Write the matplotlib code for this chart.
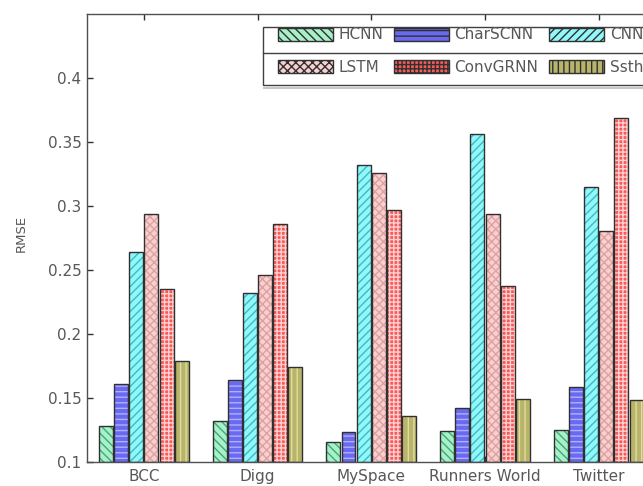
import numpy as np
import matplotlib.pyplot as plt
from matplotlib.patches import Patch, Rectangle
from matplotlib.lines import Line2D

plt.rcParams['font.family'] = ['DejaVu Sans']
plt.rcParams['hatch.linewidth'] = 1.0

datasets = ['BCC', 'Digg', 'MySpace', 'Runners World', 'Twitter']
methods = ['HCNN', 'CharSCNN', 'CNN', 'LSTM', 'ConvGRNN', 'Ssth']

# RMSE 数值
hcnn = [0.128, 0.132, 0.115, 0.124, 0.125]
charscnn = [0.161, 0.164, 0.123, 0.142, 0.158]
cnn = [0.264, 0.232, 0.332, 0.356, 0.315]
lstm = [0.294, 0.246, 0.326, 0.294, 0.280]
convgrnn = [0.235, 0.286, 0.297, 0.237, 0.369]
ssth = [0.179, 0.174, 0.136, 0.149, 0.148]
values = [hcnn, charscnn, cnn, lstm, convgrnn, ssth]

face_colors = ['#a8f0c8', '#6a6af0', '#90f8f8', '#f8d0d0', '#f85a5a', '#b8b46a']
hatch_colors = ['#40a878', '#b0b0ff', '#40b8c8', '#e0a0a0', '#ffd0d0', '#e0dca0']
hatches = ['\\\\\\\\', '---', '////', 'xxxx', '++++', '|||']

text_color = '#585858'
fs = 11

fig = plt.figure(figsize=(6.43, 4.86), dpi=100)
ax = fig.add_axes([87 / 643, 1 - 461.6 / 486, 568.5 / 643, (461.6 - 14) / 486])

x = np.arange(1, len(datasets) + 1)
n = len(methods)
w = 0.8 / n
for i in range(n):
    pos = x + (i - (n - 1) / 2) * w
    ax.bar(pos, np.array(values[i]) - 0.1, w * 0.92, bottom=0.1,
           color=face_colors[i], edgecolor=hatch_colors[i], hatch=hatches[i],
           linewidth=0, zorder=2.1)
    ax.bar(pos, np.array(values[i]) - 0.1, w * 0.92, bottom=0.1,
           fill=False, edgecolor='#303030', linewidth=1.0, zorder=2.2)

ax.set_xlim(0.5, 5.5)
ax.set_ylim(0.1, 0.45)
ax.set_xticks(x)
ax.set_xticklabels(datasets)
ax.set_yticks([0.1, 0.15, 0.2, 0.25, 0.3, 0.35, 0.4])
ax.set_yticklabels(['0.1', '0.15', '0.2', '0.25', '0.3', '0.35', '0.4'])
ax.tick_params(direction='in', length=4, width=1, colors='#303030',
               labelcolor=text_color, labelsize=fs, top=True, right=True)
ax.tick_params(axis='y', pad=4)
ax.tick_params(axis='x', pad=5)
ax.set_ylabel('RMSE', fontsize=9.5, color=text_color)
ax.yaxis.set_label_coords(-0.105, 0.51)
for s in ax.spines.values():
    s.set_color('#505050')
    s.set_linewidth(1.0)

# 图例：按列填充，所以顺序要调整成两行三列的样子
handles = []
for i in range(n):
    handles.append(Patch(facecolor=face_colors[i], edgecolor='#303030',
                         hatch=hatches[i], linewidth=1.0, label=methods[i]))
order = [0, 3, 1, 4, 2, 5]
leg = ax.legend(handles=[handles[k] for k in order], ncol=3, fontsize=fs,
                frameon=False, loc='upper left', borderpad=0, borderaxespad=0,
                bbox_to_anchor=(278 / 643, 1 - 27.5 / 486),
                bbox_transform=fig.transFigure,
                handlelength=3.6, handleheight=0.95, handletextpad=0.35,
                columnspacing=0.72, labelspacing=1.13, labelcolor=text_color)
leg.set_zorder(6)

# 图例外框和中间的分隔线
box = Rectangle((263 / 643, 1 - 85 / 486), 400 / 643, 58.3 / 486,
                transform=fig.transFigure, facecolor='white',
                edgecolor='#404040', linewidth=1.0, zorder=4, clip_on=False)
ax.add_patch(box)
ax.add_line(Line2D([263 / 643, 1], [1 - 52.7 / 486] * 2,
                   transform=fig.transFigure, color='#404040',
                   linewidth=1.0, zorder=4.5, clip_on=False))
ax.add_line(Line2D([264 / 643, 1], [1 - 88 / 486] * 2,
                   transform=fig.transFigure, color='#c8c8c8',
                   linewidth=1.5, zorder=4.5, clip_on=False))

plt.savefig('out.png', dpi=100)
